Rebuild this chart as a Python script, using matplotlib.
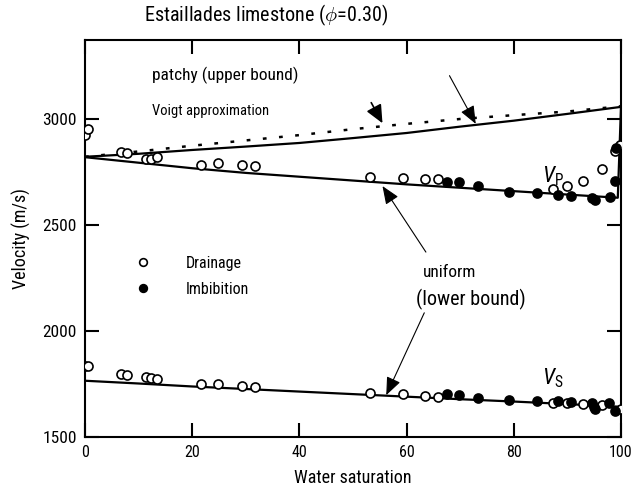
import matplotlib
matplotlib.use("Agg")
import matplotlib.pyplot as plt
from matplotlib import font_manager as fm

_avail = {f.name for f in fm.fontManager.ttflist}
FONT = next((n for n in ['Roboto Condensed', 'Archivo Narrow', 'IBM Plex Sans Condensed',
                         'Fira Sans Condensed', 'Liberation Sans'] if n in _avail), 'DejaVu Sans')

plt.rcParams['font.family'] = [FONT, 'DejaVu Sans']
plt.rcParams['mathtext.fontset'] = 'custom'
plt.rcParams['mathtext.rm'] = FONT
plt.rcParams['mathtext.it'] = FONT + ':italic'
plt.rcParams['mathtext.bf'] = FONT + ':bold'

# ---------------- data ----------------
# model curves (water saturation %)
sw_model = [0, 10, 20, 30, 40, 50, 60, 70, 80, 90, 99.4, 100]
vp_uniform = [2818, 2792, 2766, 2744, 2726, 2708, 2690, 2674, 2658, 2642, 2627, 3055]
sw_patchy = [0, 10, 20, 30, 40, 50, 60, 70, 80, 90, 100]
vp_patchy = [2820, 2834, 2852, 2868, 2885, 2908, 2932, 2962, 2990, 3022, 3055]
vp_voigt = [2820, 2845, 2872, 2897, 2922, 2950, 2975, 2998, 3016, 3033, 3058]
vs_model = [1765, 1752, 1738, 1726, 1714, 1702, 1690, 1678, 1667, 1655, 1643, 1642]

# measurements - drainage
sw_drain = [0, 0.6, 6.8, 7.9, 11.4, 12.4, 13.5, 21.6, 24.8, 29.2, 31.8,
            53.1, 59.3, 63.4, 65.8, 87.4, 90.0, 93.0, 96.5, 98.9, 99.9]
vp_drain = [2924, 2952, 2841, 2838, 2810, 2810, 2818, 2783, 2790, 2779, 2777,
            2727, 2718, 2716, 2713, 2666, 2683, 2705, 2763, 2846, 2876]
sw_drain_s = [0, 0.6, 6.8, 7.9, 11.4, 12.4, 13.5, 21.6, 24.8, 29.2, 31.8,
              53.1, 59.3, 63.4, 65.8, 87.4, 90.0, 93.0, 96.5, 100]
vs_drain = [1835, 1835, 1796, 1793, 1782, 1776, 1773, 1752, 1748, 1740, 1736,
            1705, 1701, 1693, 1689, 1661, 1662, 1654, 1649, 1630]

# measurements - imbibition
sw_imb = [67.5, 69.8, 73.3, 79.1, 84.3, 88.3, 90.6, 94.5, 95.1, 98.0, 98.9, 99.0]
vp_imb = [2702, 2702, 2680, 2655, 2649, 2642, 2634, 2628, 2617, 2630, 2708, 2862]
sw_imb_s = [67.5, 69.8, 73.3, 79.1, 84.3, 88.3, 90.6, 94.5, 95.0, 95.1, 97.8, 98.9]
vs_imb = [1702, 1700, 1685, 1672, 1671, 1669, 1666, 1658, 1642, 1632, 1658, 1624]

x_ticks = [0, 20, 40, 60, 80, 100]
y_ticks = [1500, 2000, 2500, 3000]

# ---------------- figure ----------------
fig = plt.figure(figsize=(6.33, 5.01), dpi=100)
ax = fig.add_axes([85 / 633, 1 - 437 / 501, 536 / 633, 397 / 501])

ax.plot(sw_model, vp_uniform, color='black', lw=1.6, zorder=2)
ax.plot(sw_patchy, vp_patchy, color='black', lw=1.6, zorder=2)
ax.plot(sw_patchy, vp_voigt, color='black', lw=1.8, ls=(0, (1.5, 5)), zorder=2)
ax.plot(sw_model, vs_model, color='black', lw=1.6, zorder=2)

mk = dict(marker='o', ls='none', ms=6.5, mew=1.2, mec='black', zorder=3)
h_drain, = ax.plot(sw_drain, vp_drain, mfc='white', label='Drainage', **mk)
ax.plot(sw_drain_s, vs_drain, mfc='white', **mk)
h_imb, = ax.plot(sw_imb, vp_imb, mfc='black', label='Imbibition', **mk)
ax.plot(sw_imb_s, vs_imb, mfc='black', **mk)

ax.set_xlim(0, 100)
ax.set_ylim(1500, 3370)
ax.set_xticks(x_ticks)
ax.set_yticks(y_ticks)
ax.tick_params(direction='in', length=10, width=1.5, labelsize=12.5,
               top=True, right=True, pad=6)
ax.tick_params(axis='x', labelsize=11.5)
for s in ax.spines.values():
    s.set_linewidth(1.5)
ax.set_xlabel('Water saturation', fontsize=13, labelpad=6)
ax.set_ylabel('Velocity (m/s)', fontsize=13, labelpad=8)

fig.text(144 / 633, 1 - 15 / 501, r'Estaillades limestone ($\phi$=0.30)',
         fontsize=14.5, ha='left', va='center')

ax.text(12.5, 3202, 'patchy (upper bound)', fontsize=12.5, ha='left', va='center')
ax.text(12.5, 3037, 'Voigt approximation', fontsize=10.5, ha='left', va='center')
ax.text(63.1, 2276, 'uniform', fontsize=12.5, ha='left', va='center')
ax.text(61.8, 2150, '(lower bound)', fontsize=14.5, ha='left', va='center')
ax.text(85.3, 2727, r'$V_\mathrm{P}$', fontsize=16, ha='left', va='center')
ax.text(85.3, 1777, r'$V_\mathrm{S}$', fontsize=16, ha='left', va='center')

thin = dict(arrowstyle='-|>,head_length=1.1,head_width=0.45', color='black', lw=0.8,
            shrinkA=0, shrinkB=0)
ax.annotate('', xy=(55.5, 2978), xytext=(53.4, 3075),
            arrowprops=dict(arrowstyle='-|>,head_length=1.1,head_width=0.5',
                            color='black', lw=1.2, shrinkA=0, shrinkB=0))
ax.annotate('', xy=(72.9, 2975), xytext=(68.0, 3202), arrowprops=thin)
ax.annotate('', xy=(55.5, 2682), xytext=(63.6, 2371), arrowprops=thin)
ax.annotate('', xy=(56.2, 1697), xytext=(63.3, 2085), arrowprops=thin)

leg = ax.legend(handles=[h_drain, h_imb], loc='upper left',
                bbox_to_anchor=(0.0926, 0.457), frameon=False, fontsize=11.5,
                handlelength=1.0, handletextpad=2.2, labelspacing=0.7,
                borderpad=0, borderaxespad=0, markerscale=0.85)

fig.savefig('out.png', dpi=100)
